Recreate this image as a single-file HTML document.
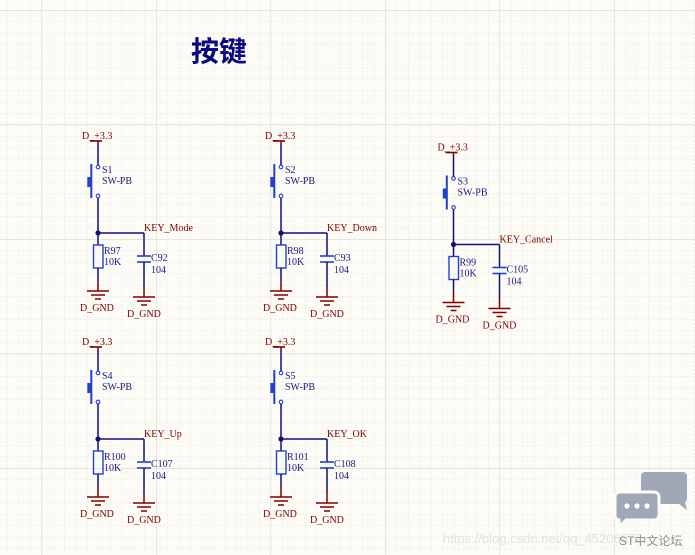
<!DOCTYPE html>
<html><head><meta charset="utf-8"><style>
html,body{margin:0;padding:0;background:#fcfbf5;}
svg{display:block;}
.lb{font-family:"Liberation Serif",serif;font-size:10px;fill:#1a1a80;}
.rd{font-family:"Liberation Serif",serif;font-size:10px;fill:#800000;}
</style></head><body>
<svg width="695" height="555" viewBox="0 0 695 555" xmlns="http://www.w3.org/2000/svg">
<defs>
<pattern id="minor" x="41.5" y="10" width="11.45" height="11.45" patternUnits="userSpaceOnUse">
<path d="M0 0H11.45M0 0V11.45" stroke="#e4e2da" stroke-width="1" stroke-dasharray="2,2" fill="none"/>
</pattern>
<pattern id="major" x="41.5" y="10" width="114.5" height="114.5" patternUnits="userSpaceOnUse">
<path d="M0 0H114.5M0 0V114.5" stroke="#d8d6ce" stroke-width="1.2" fill="none"/>
</pattern>
<g id="blk">
<line x1="90" y1="141" x2="102" y2="141" stroke="#800000" stroke-width="1.6"/>
<line x1="98" y1="141" x2="98" y2="144" stroke="#800000" stroke-width="1.5"/>
<line x1="98" y1="144" x2="98" y2="165" stroke="#10107a" stroke-width="1.5"/>
<circle cx="98" cy="167" r="1.8" fill="none" stroke="#2040d0" stroke-width="1.1"/>
<rect x="90.3" y="164" width="2" height="34" fill="#2040d0"/>
<rect x="87.3" y="177" width="4.5" height="10" fill="#2040d0"/>
<circle cx="98" cy="196" r="1.8" fill="none" stroke="#2040d0" stroke-width="1.1"/>
<line x1="98" y1="198" x2="98" y2="233" stroke="#10107a" stroke-width="1.5"/>
<circle cx="98" cy="233" r="2.6" fill="#10107a"/>
<line x1="98" y1="233" x2="144" y2="233" stroke="#10107a" stroke-width="1.5"/>
<line x1="98" y1="233" x2="98" y2="245" stroke="#10107a" stroke-width="1.5"/>
<rect x="93.5" y="245" width="9.5" height="23" fill="none" stroke="#2040d0" stroke-width="1.4"/>
<line x1="98" y1="268" x2="98" y2="281" stroke="#10107a" stroke-width="1.5"/>
<line x1="98" y1="281" x2="98" y2="291" stroke="#800000" stroke-width="1.5"/>
<line x1="87" y1="291" x2="109" y2="291" stroke="#800000" stroke-width="1.5"/>
<line x1="91" y1="295" x2="105" y2="295" stroke="#800000" stroke-width="1.5"/>
<line x1="95" y1="299" x2="101" y2="299" stroke="#800000" stroke-width="1.5"/>
<line x1="144" y1="233" x2="144" y2="256" stroke="#10107a" stroke-width="1.5"/>
<line x1="137" y1="256" x2="151" y2="256" stroke="#2040d0" stroke-width="1.6"/>
<line x1="137" y1="262" x2="151" y2="262" stroke="#2040d0" stroke-width="1.6"/>
<line x1="144" y1="262" x2="144" y2="287" stroke="#10107a" stroke-width="1.5"/>
<line x1="144" y1="287" x2="144" y2="297" stroke="#800000" stroke-width="1.5"/>
<line x1="133" y1="297" x2="155" y2="297" stroke="#800000" stroke-width="1.5"/>
<line x1="137" y1="301" x2="151" y2="301" stroke="#800000" stroke-width="1.5"/>
<line x1="141" y1="305" x2="147" y2="305" stroke="#800000" stroke-width="1.5"/>
<text class="rd" x="82" y="139">D_+3.3</text>
<text class="lb" x="102" y="184">SW-PB</text>
<text class="rd" x="80" y="311">D_GND</text>
<text class="rd" x="127" y="317">D_GND</text>
<text class="lb" x="104" y="265">10K</text>
<text class="lb" x="151" y="273">104</text>
</g>
</defs>
<rect width="695" height="555" fill="#fcfbf5"/>
<rect width="695" height="555" fill="url(#minor)"/>
<rect width="695" height="555" fill="url(#major)"/>
<text x="191" y="61" font-family="'Noto Sans CJK SC',sans-serif" font-weight="bold" font-size="28" fill="#0a0a80">按键</text>

<g><use href="#blk"/><text class="lb" x="102" y="173">S1</text>
<text class="lb" x="104" y="254">R97</text><text class="lb" x="151" y="261">C92</text><text class="rd" x="144" y="231">KEY_Mode</text></g>

<g transform="translate(183,0)"><use href="#blk"/><text class="lb" x="102" y="173">S2</text>
<text class="lb" x="104" y="254">R98</text><text class="lb" x="151" y="261">C93</text><text class="rd" x="144" y="231">KEY_Down</text></g>

<g transform="translate(355.5,11.5)"><use href="#blk"/><text class="lb" x="102" y="173">S3</text>
<text class="lb" x="104" y="254">R99</text><text class="lb" x="151" y="261">C105</text><text class="rd" x="144" y="231">KEY_Cancel</text></g>

<g transform="translate(0,206)"><use href="#blk"/><text class="lb" x="102" y="173">S4</text>
<text class="lb" x="104" y="254">R100</text><text class="lb" x="151" y="261">C107</text><text class="rd" x="144" y="231">KEY_Up</text></g>

<g transform="translate(183,206)"><use href="#blk"/><text class="lb" x="102" y="173">S5</text>
<text class="lb" x="104" y="254">R101</text><text class="lb" x="151" y="261">C108</text><text class="rd" x="144" y="231">KEY_OK</text></g>

<text x="443" y="543" font-family="'Liberation Sans',sans-serif" font-size="13" fill="#e2e2e2">https://blog.csdn.net/qq_45206672</text>
<path d="M645 472 h38 a4 4 0 0 1 4 4 v22 a4 4 0 0 1 -2 4 l2 8 l-8 -6 h-34 a4 4 0 0 1 -4 -4 v-24 a4 4 0 0 1 4 -4z" fill="#a0a8b8"/>
<path d="M620 492 h34 a5 5 0 0 1 5 5 v18 a5 5 0 0 1 -5 5 h-28 l-7 7 v-7 a5 5 0 0 1 -4 -5 v-18 a5 5 0 0 1 5 -5z" fill="#a0a8b8" stroke="#fcfbf5" stroke-width="3"/>
<circle cx="627" cy="506" r="2.6" fill="#fff"/><circle cx="637" cy="506" r="2.6" fill="#fff"/><circle cx="647" cy="506" r="2.6" fill="#fff"/>
<text x="619" y="545" font-family="'Liberation Sans','Noto Sans CJK SC',sans-serif" font-size="12" fill="#8a8f9a">ST中文论坛</text>
</svg>
</body></html>
